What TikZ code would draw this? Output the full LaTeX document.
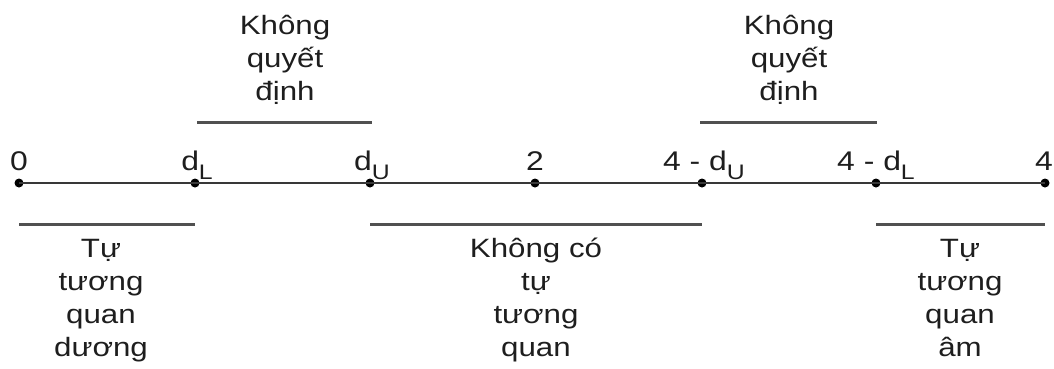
\documentclass[tikz,border=0pt]{standalone}
\usepackage{fontspec}
\setmainfont[FakeStretch=1.18]{Liberation Sans}
\definecolor{ink}{HTML}{1E1E1E}
\definecolor{barc}{HTML}{505050}
\definecolor{axisc}{HTML}{383838}
\newcommand{\subL}[1]{\raisebox{-0.36em}{\fontsize{21}{21}\selectfont #1}}
\begin{document}
\begin{tikzpicture}[x=1pt,y=-1pt,
  dotnode/.style={circle,fill=black,inner sep=0pt,minimum size=9pt},
  ticklab/.style={anchor=base,text=ink,inner sep=0pt,font=\fontsize{27}{27}\selectfont},
  blocklab/.style={align=center,text=ink,inner sep=0pt,anchor=base,font=\fontsize{26.5}{33}\selectfont},
  barline/.style={draw=barc,line width=3pt},
  axisline/.style={draw=axisc,line width=2pt}]
\useasboundingbox (0,0) rectangle (1054,368);
\fill[white] (0,0) rectangle (1054,368);
% points on the axis
\node[dotnode] (p0) at (19,183) {};
\node[dotnode] (p1) at (195,183) {};
\node[dotnode] (p2) at (370,183) {};
\node[dotnode] (p3) at (535,183) {};
\node[dotnode] (p4) at (702,183) {};
\node[dotnode] (p5) at (876,183) {};
\node[dotnode] (p6) at (1045,183) {};
\draw[axisline] (p0.center) -- (p6.center);
% tick labels
\node[ticklab] (l0) at (19,170) {0};
\node[ticklab] (l1) at (197,170) {d\subL{L}};
\node[ticklab] (l2) at (372,170) {d\subL{U}};
\node[ticklab] (l3) at (535,170) {2};
\node[ticklab] (l4) at (704,170) {4 - d\subL{U}};
\node[ticklab] (l5) at (876,170) {4 - d\subL{L}};
\node[ticklab] (l6) at (1044,170) {4};
% bars
\coordinate (u1a) at (197,122); \coordinate (u1b) at (372,122);
\coordinate (u2a) at (700,122); \coordinate (u2b) at (877,122);
\coordinate (d1a) at (19,224);  \coordinate (d1b) at (195,224);
\coordinate (d2a) at (370,224); \coordinate (d2b) at (702,224);
\coordinate (d3a) at (876,224); \coordinate (d3b) at (1045,224);
\draw[barline] (u1a) -- (u1b);
\draw[barline] (u2a) -- (u2b);
\draw[barline] (d1a) -- (d1b);
\draw[barline] (d2a) -- (d2b);
\draw[barline] (d3a) -- (d3b);
% block labels (base = baseline of last line)
\node[blocklab] (t1) at (285,100) {Không\\quyết\\định};
\node[blocklab] (t2) at (789,100) {Không\\quyết\\định};
\node[blocklab] (b1) at (101,356) {Tự\\tương\\quan\\dương};
\node[blocklab] (b2) at (536,356) {Không có\\tự\\tương\\quan};
\node[blocklab] (b3) at (960,356) {Tự\\tương\\quan\\âm};
\end{tikzpicture}
\end{document}
